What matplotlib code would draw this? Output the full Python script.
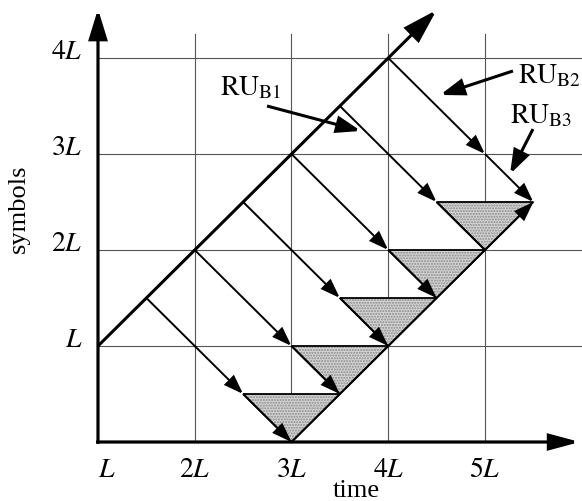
import matplotlib.pyplot as plt
from matplotlib.patches import Polygon, FancyArrowPatch

plt.rcParams['font.family'] = ['Liberation Serif', 'DejaVu Serif']
plt.rcParams['mathtext.fontset'] = 'stix'

# ticks, in multiples of L
time_ticks = [1, 2, 3, 4, 5]
time_labels = ['$L$', '$2L$', '$3L$', '$4L$', '$5L$']
symbol_ticks = [1, 2, 3, 4]
symbol_labels = ['$L$', '$2L$', '$3L$', '$4L$']

# main diagonal (thick arrow)
diag_x = [1.0, 4.5]
diag_y = [1.0, 4.5]

# paths going down-right from the diagonal: start, bend, end
path_x = [[1.5, 2.5, 3.0], [2.0, 3.0, 3.5], [2.5, 3.5, 4.0],
          [3.0, 4.0, 4.5], [3.5, 4.5, 5.0], [4.0, 5.0, 5.5]]
path_y = [[1.5, 0.5, 0.0], [2.0, 1.0, 0.5], [2.5, 1.5, 1.0],
          [3.0, 2.0, 1.5], [3.5, 2.5, 2.0], [4.0, 3.0, 2.5]]
path_end_arrow = [True, True, True, True, False, True]

# lower edge
lower_x = [3.0, 5.5]
lower_y = [0.0, 2.5]

# shaded triangles
tri_x = [[2.5, 3.5, 3.0], [3.0, 4.0, 3.5], [3.5, 4.5, 4.0],
         [4.0, 5.0, 4.5], [4.5, 5.5, 5.0]]
tri_y = [[0.5, 0.5, 0.0], [1.0, 1.0, 0.5], [1.5, 1.5, 1.0],
         [2.0, 2.0, 1.5], [2.5, 2.5, 2.0]]

fs = 20

fig = plt.figure(figsize=(5.82, 5.02), dpi=100)
ax = fig.add_axes([0, 0, 1, 1])
ax.set_xlim(-0.0129, 6.0026)
ax.set_ylim(-0.6146, 4.6146)
ax.axis('off')


def arrow(x0, y0, x1, y1, lw=1.4, head=True, hl=0.9, hw=0.32, ms=13, z=4):
    style = '-|>,head_length=%g,head_width=%g' % (hl, hw) if head else '-'
    ax.add_patch(FancyArrowPatch((x0, y0), (x1, y1), arrowstyle=style,
                                 mutation_scale=ms, lw=lw, color='black',
                                 shrinkA=0, shrinkB=0, zorder=z,
                                 joinstyle='miter', capstyle='butt'))


# grid
for t in time_ticks[1:]:
    ax.plot([t, t], [0, 4.25], color='#555555', lw=0.8, zorder=1)
for s in symbol_ticks:
    ax.plot([1, 6.1], [s, s], color='#555555', lw=0.8, zorder=1)

# axes with arrows
arrow(1, -0.02, 1, 4.51, lw=2.3, hl=1.3, hw=0.4, ms=14, z=5)
arrow(0.98, 0, 5.98, 0, lw=2.3, hl=1.3, hw=0.35, ms=14, z=5)

# triangles (stippled grey)
for xs, ys in zip(tri_x, tri_y):
    ax.add_patch(Polygon(list(zip(xs, ys)), closed=True, facecolor='#d4d4d4',
                         edgecolor='#8a8a8a', hatch='......', lw=0, zorder=2))
    ax.add_patch(Polygon(list(zip(xs, ys)), closed=True, fill=False,
                         edgecolor='black', lw=1.3, zorder=3))

# diagonal
arrow(diag_x[0], diag_y[0], diag_x[1], diag_y[1], lw=2.2, hl=1.4, hw=0.42, ms=15, z=5)

# paths
for xs, ys, last in zip(path_x, path_y, path_end_arrow):
    arrow(xs[0], ys[0], xs[1], ys[1])
    arrow(xs[1], ys[1], xs[2], ys[2], head=last)

# lower edge
arrow(lower_x[0], lower_y[0], lower_x[1], lower_y[1])

# tick labels
for t, lab in zip(time_ticks, time_labels):
    dx = 0.09 if t == 1 else 0.0
    ax.text(t + dx, -0.354, lab, ha='center', va='baseline', fontsize=fs)
for s, lab in zip(symbol_ticks, symbol_labels):
    ax.text(0.84, s, lab, ha='right', va='baseline', fontsize=fs)

ax.text(3.67, -0.56, 'time', ha='center', va='baseline', fontsize=19)
ax.text(0.18, 2.44, 'symbols', ha='center', va='center', rotation=90, fontsize=19)

# RU labels with arrows
ru_labels = [r'$\mathrm{RU}_{\mathrm{B1}}$', r'$\mathrm{RU}_{\mathrm{B2}}$',
             r'$\mathrm{RU}_{\mathrm{B3}}$']
ru_text = [(2.26, 3.625), (5.34, 3.75), (5.258, 3.333)]
ru_tail = [(2.747, 3.5), (5.289, 3.865), (5.496, 3.26)]
ru_tip = [(3.718, 3.24), (4.535, 3.615), (5.258, 2.79)]
for lab, pt, tail, tip in zip(ru_labels, ru_text, ru_tail, ru_tip):
    ax.text(pt[0], pt[1], lab, ha='left', va='baseline', fontsize=fs)
    arrow(tail[0], tail[1], tip[0], tip[1], lw=2.2, hl=1.1, hw=0.38, ms=13, z=6)

fig.savefig('out.png', dpi=100)
